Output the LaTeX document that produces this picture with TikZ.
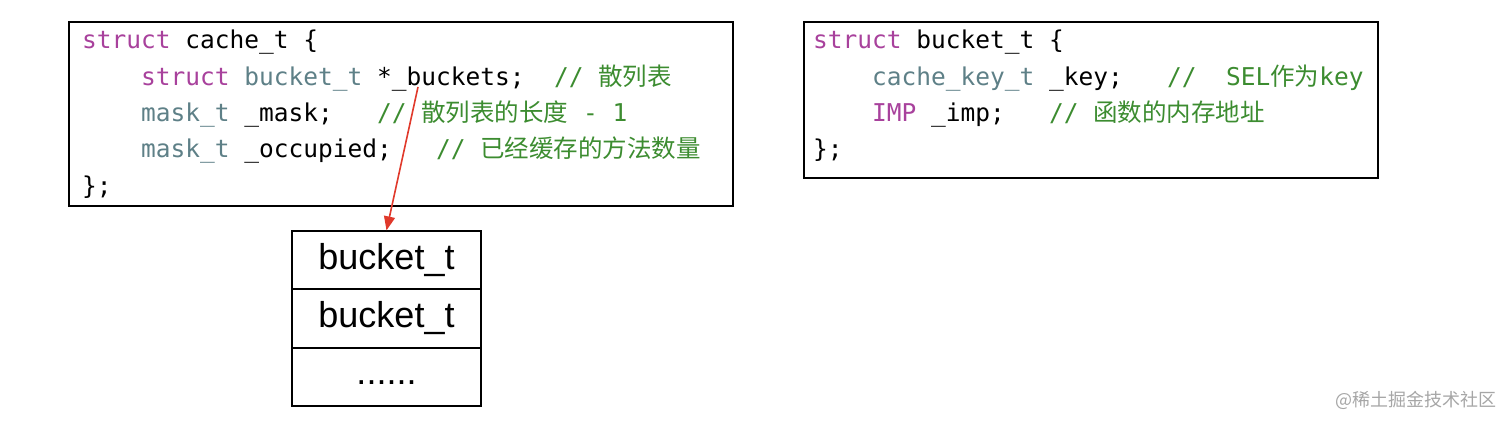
\documentclass[tikz,border=0pt]{standalone}
\usepackage{fontspec}
\usepackage{xcolor}
\setmainfont{Liberation Sans}
\newfontfamily\codefont{DejaVu Sans Mono}
\newfontfamily\cjk{Noto Sans CJK SC}
\usetikzlibrary{arrows.meta}
\usetikzlibrary{positioning}
\definecolor{kwcolor}{HTML}{A8419C}
\definecolor{typecolor}{HTML}{5E8087}
\definecolor{commentcolor}{HTML}{3C8C30}
\definecolor{ptrcolor}{HTML}{E0392B}
\newcommand{\kw}[1]{\textcolor{kwcolor}{#1}}
\newcommand{\ty}[1]{\textcolor{typecolor}{#1}}
\newcommand{\cm}[1]{\textcolor{commentcolor}{#1}}
\newcommand{\ind}{\ \ \ \ }

\begin{document}
\begin{tikzpicture}[x=1pt,y=-1pt,
    codebox/.style={draw, line width=1.2pt, inner sep=0pt},
    codeline/.style={anchor=base west, inner sep=0pt,
        font=\codefont\fontsize{24.5}{30}\selectfont},
    cell/.style={draw, line width=1.2pt, inner sep=0pt, minimum width=189pt,
        minimum height=57.5pt, font=\fontsize{36}{40}\selectfont},
    ptrarrow/.style={draw=ptrcolor, line width=1.6pt,
        -{Triangle[length=14pt,width=11pt]}, fill=ptrcolor}]
    \useasboundingbox (0,0) rectangle (1512,425);
    % Draw the cache_t struct
    \node[codebox, minimum width=664pt, minimum height=184pt] (cache) at (401,114) {};
    \node[codeline] (c1) at (82,49) {\kw{struct} cache\_t \{};
    \node[codeline] (c2) at (82,85.3) {\ind\kw{struct} \ty{bucket\_t} *\_buckets;\ \ \cm{// {\cjk 散列表}}};
    \node[codeline] (c3) at (82,121.6) {\ind\ty{mask\_t} \_mask;\ \ \ \cm{// {\cjk 散列表的长度} - 1}};
    \node[codeline] (c4) at (82,157.9) {\ind\ty{mask\_t} \_occupied;\ \ \ \cm{// {\cjk 已经缓存的方法数量}}};
    \node[codeline] (c5) at (82,194.2) {\};};
    % Draw the bucket_t struct
    \node[codebox, minimum width=574pt, minimum height=156pt] (bucket) at (1091,100) {};
    \node[codeline] (d1) at (813,49) {\kw{struct} bucket\_t \{};
    \node[codeline] (d2) at (813,85.3) {\ind\ty{cache\_key\_t} \_key;\ \ \ \cm{//\ \ SEL{\cjk 作为}key}};
    \node[codeline] (d3) at (813,121.6) {\ind\kw{IMP} \_imp;\ \ \ \cm{// {\cjk 函数的内存地址}}};
    \node[codeline] (d4) at (813,157.9) {\};};
    % Draw the hash table
    \node[cell] (b1) at (386.5,259.75) {bucket\_t};
    \node[cell, below=0pt of b1] (b2) {bucket\_t};
    \node[cell, below=0pt of b2] (b3) {\raisebox{-7pt}[0pt][0pt]{......}};
    \coordinate (ptr) at (418,87);
    \draw[ptrarrow] (ptr) -- (b1.north);
    % Watermark
    \node[anchor=east, inner sep=0pt, text=black!35, font=\cjk\fontsize{18}{20}\selectfont] (mark) at (1497,400) {@稀土掘金技术社区};
\end{tikzpicture}
\end{document}
